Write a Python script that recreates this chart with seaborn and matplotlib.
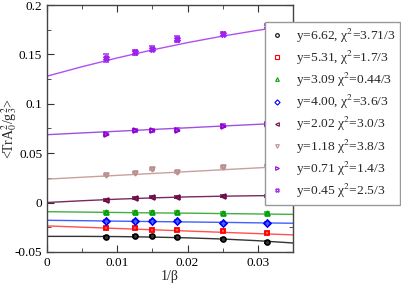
import numpy as np
import pandas as pd
import seaborn as sns
import matplotlib.pyplot as plt
from matplotlib.ticker import MultipleLocator

sns.set_style("ticks")
plt.rcParams['font.family'] = ['Liberation Serif', 'DejaVu Serif']
plt.rcParams['mathtext.fontset'] = 'stix'

# 1/beta values of the lattice points
inv_beta = [0.00833, 0.0125, 0.015, 0.0185, 0.025, 0.03125]

# measured <TrA0^2/g3^2> for each y
y662 = [-0.0347, -0.0343, -0.0337, -0.0353, -0.0370, -0.0397]
y531 = [-0.0260, -0.0263, -0.0277, -0.0277, -0.0293, -0.0310]
y309 = [-0.0100, -0.0100, -0.0100, -0.0100, -0.0110, -0.0110]
y400 = [-0.0187, -0.0187, -0.0187, -0.0187, -0.0203, -0.0203]
y202 = [0.0027, 0.0050, 0.0060, 0.0053, 0.0063, 0.0063]
y118 = [0.0280, 0.0303, 0.0337, 0.0313, 0.0363, 0.0373]
y071 = [0.0697, 0.0733, 0.0730, 0.0737, 0.0780, 0.0800]
y045 = [0.1460, 0.1520, 0.1560, 0.1660, 0.1707, 0.1790]

err_small = [0.0010, 0.0010, 0.0010, 0.0010, 0.0010, 0.0010]
err071 = [0.0015, 0.0015, 0.0015, 0.0015, 0.0015, 0.0015]
err045 = [0.0040, 0.0030, 0.0030, 0.0030, 0.0020, 0.0020]

# fit curves
fit_x = [0, 0.005, 0.01, 0.015, 0.02, 0.025, 0.03, 0.035]
fit662 = [-0.0343, -0.0343, -0.0345, -0.0350, -0.0358, -0.0370, -0.0387, -0.0410]
fit531 = [-0.0237, -0.0250, -0.0263, -0.0276, -0.0289, -0.0302, -0.0315, -0.0328]
fit309 = [-0.0093, -0.0097, -0.0101, -0.0105, -0.0108, -0.0112, -0.0116, -0.0120]
fit400 = [-0.0180, -0.0184, -0.0189, -0.0193, -0.0197, -0.0201, -0.0206, -0.0210]
fit202 = [0.0000, 0.0018, 0.0034, 0.0047, 0.0057, 0.0064, 0.0069, 0.0071]
fit118 = [0.0237, 0.0256, 0.0275, 0.0294, 0.0313, 0.0332, 0.0351, 0.0370]
fit071 = [0.0687, 0.0705, 0.0722, 0.0740, 0.0757, 0.0775, 0.0792, 0.0810]
fit045 = [0.1280, 0.1376, 0.1465, 0.1546, 0.1620, 0.1686, 0.1745, 0.1796]

labels = ["y=6.62, χ$^2$=3.71/3", "y=5.31, χ$^2$=1.7/3", "y=3.09 χ$^2$=0.44/3",
          "y=4.00, χ$^2$=3.6/3", "y=2.02 χ$^2$=3.0/3", "y=1.18 χ$^2$=3.8/3",
          "y=0.71 χ$^2$=1.4/3", "y=0.45 χ$^2$=2.5/3"]
colors = ['black', 'red', '#00a000', 'blue', '#700a48', '#bc8f8f', '#9400d3', '#a020f0']
line_colors = ['#333333', '#ff5050', '#40b040', '#4060ff', '#7a2a5a', '#c8a0a0', '#a050e0', '#b050f0']
markers = ['o', 's', '^', 'D', '<', 'v', '>', 'X']

series = [y662, y531, y309, y400, y202, y118, y071, y045]
errs = [err_small] * 6 + [err071, err045]
fits = [fit662, fit531, fit309, fit400, fit202, fit118, fit071, fit045]

fig = plt.figure(figsize=(4.02, 2.83), dpi=100)
ax = fig.add_axes([0.117, 0.11, 0.612, 0.872])

for i in range(8):
    df = pd.DataFrame({'x': fit_x, 'y': fits[i]})
    sns.lineplot(data=df, x='x', y='y', color=line_colors[i], lw=1, ax=ax)

handles = []
for i in range(8):
    h = ax.errorbar(inv_beta, series[i], yerr=errs[i], fmt=markers[i], ms=3.5,
                    mfc='none', mec=colors[i], mew=1.3, ecolor=line_colors[i],
                    elinewidth=1, capsize=2.5, label=labels[i])
    handles.append(h)

ax.set_xlim(0, 0.035)
ax.set_ylim(-0.05, 0.2)
ax.xaxis.set_minor_locator(MultipleLocator(0.005))
ax.yaxis.set_minor_locator(MultipleLocator(0.025))
ax.set_xticks([0, 0.01, 0.02, 0.03])
ax.set_xticklabels(['0', '0.01', '0.02', '0.03'])
ax.set_yticks([-0.05, 0, 0.05, 0.1, 0.15, 0.2])
ax.set_yticklabels(['-0.05', '0', '0.05', '0.1', '0.15', '0.2'])
ax.tick_params(which='both', direction='in', top=True, right=True, labelsize=9.5, colors='#333333',
               labelcolor='black')
ax.tick_params(which='major', length=5)
ax.tick_params(which='minor', length=3)
for s in ax.spines.values():
    s.set_color('#444444')
    s.set_linewidth(1)

ax.set_xlabel("1/β", fontsize=10, labelpad=1)
ax.set_ylabel("<TrA$_0^2$/g$_3^2$>", fontsize=10)
ax.yaxis.set_label_coords(-0.115, 0.5)

leg = fig.legend(handles=[h[0] for h in handles], labels=labels, loc='upper right',
                 bbox_to_anchor=(0.995, 0.922), borderaxespad=0, fontsize=9.7, frameon=True,
                 fancybox=False, edgecolor='#999999', framealpha=1,
                 handlelength=1.0, handletextpad=0.9, labelspacing=0.3,
                 borderpad=0.35, markerscale=0.75)
leg.get_frame().set_linewidth(1)
for lh in leg.legend_handles:
    lh.set_markeredgewidth(0.8)

plt.savefig('out.png', dpi=100)
